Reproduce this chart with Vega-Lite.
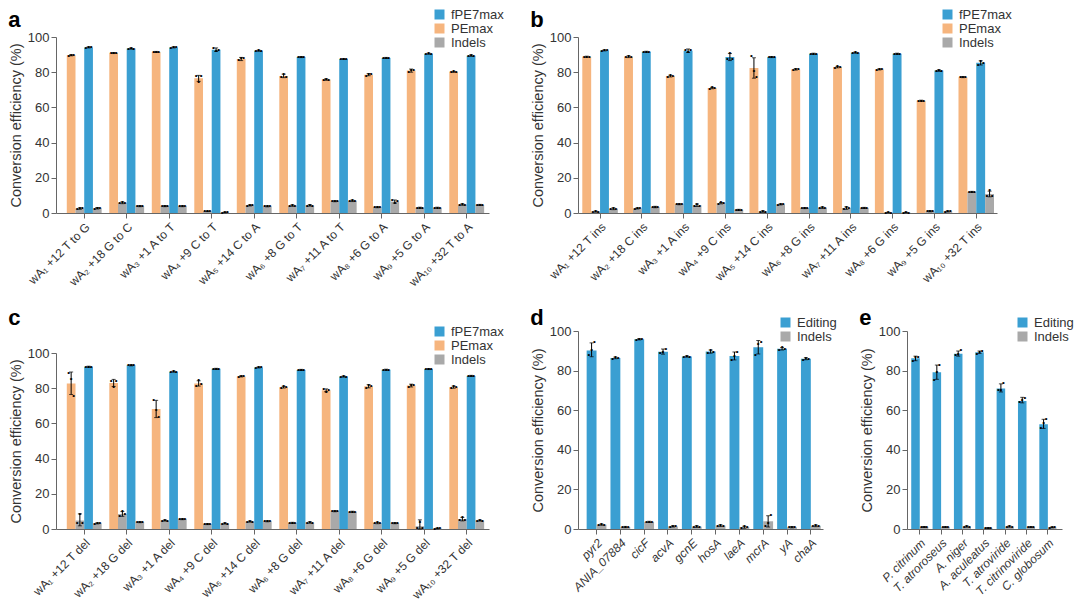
{
  "$schema": "https://vega.github.io/schema/vega-lite/v6.json",
  "background": "white",
  "padding": {"left": 8, "top": 8, "right": 2, "bottom": 2},
  "config": {
    "font": "Liberation Sans",
    "view": {"stroke": null},
    "axis": {"domainColor": "#666", "tickColor": "#666", "labelColor": "#333", "titleColor": "#333", "grid": false, "tickSize": 5, "labelFontSize": 13, "titleFontWeight": "normal", "titleFontSize": 14.5},
    "axisX": {"labelAngle": -45, "labelFontSize": 12, "labelPadding": 3},
    "axisY": {"values": [0, 20, 40, 60, 80, 100], "titlePadding": 4, "labelPadding": 2},
    "legend": {"orient": "none", "symbolType": "square", "symbolSize": 100, "labelFontSize": 13, "rowPadding": 0, "padding": 0, "symbolStrokeWidth": 0, "labelColor": "#333", "labelOffset": 5},
    "title": {"anchor": "start", "frame": "bounds", "fontSize": 22, "fontWeight": "bold", "color": "#000"}
  },
  "datasets": {
    "a": [
      {"g": "wA₁ +12 T to G", "s": "p", "k": "PEmax", "m": 89.6, "lo": 89.3, "hi": 89.9, "d1": 89.4, "d2": 89.6, "d3": 89.8},
      {"g": "wA₁ +12 T to G", "s": "pi", "k": "Indels", "m": 2.5, "lo": 2.1, "hi": 2.9, "d1": 2.2, "d2": 2.6, "d3": 2.7},
      {"g": "wA₁ +12 T to G", "s": "f", "k": "fPE7max", "m": 94.1, "lo": 93.8, "hi": 94.4, "d1": 94.0, "d2": 94.3, "d3": 94.1},
      {"g": "wA₁ +12 T to G", "s": "fi", "k": "Indels", "m": 2.7, "lo": 2.3, "hi": 3.1, "d1": 2.4, "d2": 3.0, "d3": 2.7},
      {"g": "wA₂ +18 G to C", "s": "p", "k": "PEmax", "m": 90.9, "lo": 90.6, "hi": 91.2, "d1": 90.8, "d2": 91.1, "d3": 90.9},
      {"g": "wA₂ +18 G to C", "s": "pi", "k": "Indels", "m": 5.8, "lo": 5.3, "hi": 6.3, "d1": 5.4, "d2": 6.2, "d3": 5.9},
      {"g": "wA₂ +18 G to C", "s": "f", "k": "fPE7max", "m": 93.4, "lo": 93.1, "hi": 93.7, "d1": 93.2, "d2": 93.6, "d3": 93.4},
      {"g": "wA₂ +18 G to C", "s": "fi", "k": "Indels", "m": 3.9, "lo": 3.6, "hi": 4.2, "d1": 3.8, "d2": 4.0, "d3": 3.9},
      {"g": "wA₃ +1 A to T", "s": "p", "k": "PEmax", "m": 91.5, "lo": 91.2, "hi": 91.8, "d1": 91.4, "d2": 91.6, "d3": 91.5},
      {"g": "wA₃ +1 A to T", "s": "pi", "k": "Indels", "m": 3.9, "lo": 3.6, "hi": 4.2, "d1": 3.7, "d2": 4.1, "d3": 3.9},
      {"g": "wA₃ +1 A to T", "s": "f", "k": "fPE7max", "m": 94.1, "lo": 93.8, "hi": 94.4, "d1": 94.0, "d2": 94.2, "d3": 94.1},
      {"g": "wA₃ +1 A to T", "s": "fi", "k": "Indels", "m": 3.9, "lo": 3.6, "hi": 4.2, "d1": 3.8, "d2": 4.1, "d3": 3.8},
      {"g": "wA₄ +9 C to T", "s": "p", "k": "PEmax", "m": 76.5, "lo": 74.8, "hi": 78.2, "d1": 77.6, "d2": 74.3, "d3": 77.6},
      {"g": "wA₄ +9 C to T", "s": "pi", "k": "Indels", "m": 1.0, "lo": 0.8, "hi": 1.2, "d1": 0.9, "d2": 1.1, "d3": 1.0},
      {"g": "wA₄ +9 C to T", "s": "f", "k": "fPE7max", "m": 92.8, "lo": 91.8, "hi": 93.8, "d1": 93.8, "d2": 92.1, "d3": 92.5},
      {"g": "wA₄ +9 C to T", "s": "fi", "k": "Indels", "m": 0.3, "lo": 0.1, "hi": 0.5, "d1": 0.2, "d2": 0.3, "d3": 0.4},
      {"g": "wA₅ +14 C to A", "s": "p", "k": "PEmax", "m": 87.5, "lo": 86.6, "hi": 88.4, "d1": 86.7, "d2": 87.9, "d3": 87.9},
      {"g": "wA₅ +14 C to A", "s": "pi", "k": "Indels", "m": 4.3, "lo": 4.0, "hi": 4.6, "d1": 4.2, "d2": 4.4, "d3": 4.3},
      {"g": "wA₅ +14 C to A", "s": "f", "k": "fPE7max", "m": 92.2, "lo": 91.9, "hi": 92.5, "d1": 92.1, "d2": 92.4, "d3": 92.1},
      {"g": "wA₅ +14 C to A", "s": "fi", "k": "Indels", "m": 3.8, "lo": 3.5, "hi": 4.1, "d1": 3.7, "d2": 3.9, "d3": 3.8},
      {"g": "wA₆ +8 G to T", "s": "p", "k": "PEmax", "m": 77.8, "lo": 76.9, "hi": 78.9, "d1": 77.3, "d2": 79.0, "d3": 77.1},
      {"g": "wA₆ +8 G to T", "s": "pi", "k": "Indels", "m": 4.2, "lo": 3.8, "hi": 4.6, "d1": 4.0, "d2": 4.5, "d3": 4.1},
      {"g": "wA₆ +8 G to T", "s": "f", "k": "fPE7max", "m": 88.6, "lo": 88.3, "hi": 88.9, "d1": 88.5, "d2": 88.7, "d3": 88.6},
      {"g": "wA₆ +8 G to T", "s": "fi", "k": "Indels", "m": 4.3, "lo": 3.9, "hi": 4.7, "d1": 4.1, "d2": 4.6, "d3": 4.2},
      {"g": "wA₇ +11 A to T", "s": "p", "k": "PEmax", "m": 75.8, "lo": 75.4, "hi": 76.2, "d1": 75.6, "d2": 76.1, "d3": 75.7},
      {"g": "wA₇ +11 A to T", "s": "pi", "k": "Indels", "m": 6.7, "lo": 6.4, "hi": 7.0, "d1": 6.6, "d2": 6.8, "d3": 6.7},
      {"g": "wA₇ +11 A to T", "s": "f", "k": "fPE7max", "m": 87.5, "lo": 87.2, "hi": 87.8, "d1": 87.4, "d2": 87.6, "d3": 87.5},
      {"g": "wA₇ +11 A to T", "s": "fi", "k": "Indels", "m": 6.9, "lo": 6.5, "hi": 7.3, "d1": 6.8, "d2": 7.2, "d3": 6.7},
      {"g": "wA₈ +6 G to A", "s": "p", "k": "PEmax", "m": 78.6, "lo": 78.0, "hi": 79.2, "d1": 78.0, "d2": 78.9, "d3": 78.8},
      {"g": "wA₈ +6 G to A", "s": "pi", "k": "Indels", "m": 3.3, "lo": 3.0, "hi": 3.6, "d1": 3.2, "d2": 3.4, "d3": 3.3},
      {"g": "wA₈ +6 G to A", "s": "f", "k": "fPE7max", "m": 88.1, "lo": 87.8, "hi": 88.4, "d1": 88.0, "d2": 88.2, "d3": 88.1},
      {"g": "wA₈ +6 G to A", "s": "fi", "k": "Indels", "m": 6.5, "lo": 5.6, "hi": 7.4, "d1": 7.3, "d2": 5.6, "d3": 6.6},
      {"g": "wA₉ +5 G to A", "s": "p", "k": "PEmax", "m": 80.9, "lo": 80.0, "hi": 81.8, "d1": 79.9, "d2": 81.3, "d3": 81.5},
      {"g": "wA₉ +5 G to A", "s": "pi", "k": "Indels", "m": 3.0, "lo": 2.7, "hi": 3.3, "d1": 2.9, "d2": 3.1, "d3": 3.0},
      {"g": "wA₉ +5 G to A", "s": "f", "k": "fPE7max", "m": 90.5, "lo": 90.2, "hi": 90.8, "d1": 90.4, "d2": 90.7, "d3": 90.4},
      {"g": "wA₉ +5 G to A", "s": "fi", "k": "Indels", "m": 3.0, "lo": 2.7, "hi": 3.3, "d1": 2.9, "d2": 3.0, "d3": 3.1},
      {"g": "wA₁₀ +32 T to A", "s": "p", "k": "PEmax", "m": 80.2, "lo": 79.9, "hi": 80.5, "d1": 80.0, "d2": 80.4, "d3": 80.2},
      {"g": "wA₁₀ +32 T to A", "s": "pi", "k": "Indels", "m": 4.8, "lo": 4.4, "hi": 5.2, "d1": 4.6, "d2": 5.1, "d3": 4.7},
      {"g": "wA₁₀ +32 T to A", "s": "f", "k": "fPE7max", "m": 89.4, "lo": 89.0, "hi": 89.8, "d1": 89.2, "d2": 89.6, "d3": 89.4},
      {"g": "wA₁₀ +32 T to A", "s": "fi", "k": "Indels", "m": 4.6, "lo": 4.3, "hi": 4.9, "d1": 4.5, "d2": 4.7, "d3": 4.6}
    ],
    "b": [
      {"g": "wA₁ +12 T ins", "s": "p", "k": "PEmax", "m": 88.8, "lo": 88.5, "hi": 89.1, "d1": 88.7, "d2": 88.9, "d3": 88.8},
      {"g": "wA₁ +12 T ins", "s": "pi", "k": "Indels", "m": 0.8, "lo": 0.5, "hi": 1.1, "d1": 0.7, "d2": 0.9, "d3": 0.8},
      {"g": "wA₁ +12 T ins", "s": "f", "k": "fPE7max", "m": 92.4, "lo": 92.1, "hi": 92.7, "d1": 92.3, "d2": 92.5, "d3": 92.4},
      {"g": "wA₁ +12 T ins", "s": "fi", "k": "Indels", "m": 2.4, "lo": 1.9, "hi": 2.9, "d1": 2.0, "d2": 2.8, "d3": 2.4},
      {"g": "wA₂ +18 C ins", "s": "p", "k": "PEmax", "m": 88.8, "lo": 88.3, "hi": 89.3, "d1": 88.5, "d2": 89.3, "d3": 88.6},
      {"g": "wA₂ +18 C ins", "s": "pi", "k": "Indels", "m": 2.6, "lo": 2.3, "hi": 2.9, "d1": 2.5, "d2": 2.7, "d3": 2.6},
      {"g": "wA₂ +18 C ins", "s": "f", "k": "fPE7max", "m": 91.6, "lo": 91.3, "hi": 91.9, "d1": 91.5, "d2": 91.7, "d3": 91.6},
      {"g": "wA₂ +18 C ins", "s": "fi", "k": "Indels", "m": 3.4, "lo": 3.0, "hi": 3.8, "d1": 3.2, "d2": 3.6, "d3": 3.4},
      {"g": "wA₃ +1 A ins", "s": "p", "k": "PEmax", "m": 77.8, "lo": 77.3, "hi": 78.3, "d1": 77.3, "d2": 78.3, "d3": 77.8},
      {"g": "wA₃ +1 A ins", "s": "pi", "k": "Indels", "m": 5.0, "lo": 4.7, "hi": 5.3, "d1": 4.9, "d2": 5.1, "d3": 5.0},
      {"g": "wA₃ +1 A ins", "s": "f", "k": "fPE7max", "m": 92.2, "lo": 91.2, "hi": 93.2, "d1": 92.8, "d2": 91.3, "d3": 92.5},
      {"g": "wA₃ +1 A ins", "s": "fi", "k": "Indels", "m": 4.4, "lo": 3.7, "hi": 5.1, "d1": 3.9, "d2": 5.2, "d3": 4.1},
      {"g": "wA₄ +9 C ins", "s": "p", "k": "PEmax", "m": 71.0, "lo": 70.6, "hi": 71.4, "d1": 70.7, "d2": 71.5, "d3": 70.8},
      {"g": "wA₄ +9 C ins", "s": "pi", "k": "Indels", "m": 5.6, "lo": 5.2, "hi": 6.0, "d1": 5.2, "d2": 6.0, "d3": 5.6},
      {"g": "wA₄ +9 C ins", "s": "f", "k": "fPE7max", "m": 88.6, "lo": 86.6, "hi": 90.6, "d1": 87.4, "d2": 90.9, "d3": 87.6},
      {"g": "wA₄ +9 C ins", "s": "fi", "k": "Indels", "m": 1.8, "lo": 1.5, "hi": 2.1, "d1": 1.7, "d2": 1.9, "d3": 1.8},
      {"g": "wA₅ +14 C ins", "s": "p", "k": "PEmax", "m": 82.4, "lo": 76.6, "hi": 88.2, "d1": 89.2, "d2": 80.6, "d3": 77.4},
      {"g": "wA₅ +14 C ins", "s": "pi", "k": "Indels", "m": 0.8, "lo": 0.4, "hi": 1.2, "d1": 0.5, "d2": 1.3, "d3": 0.6},
      {"g": "wA₅ +14 C ins", "s": "f", "k": "fPE7max", "m": 88.6, "lo": 88.3, "hi": 88.9, "d1": 88.5, "d2": 88.7, "d3": 88.6},
      {"g": "wA₅ +14 C ins", "s": "fi", "k": "Indels", "m": 4.9, "lo": 4.6, "hi": 5.2, "d1": 4.8, "d2": 5.0, "d3": 4.9},
      {"g": "wA₆ +8 G ins", "s": "p", "k": "PEmax", "m": 81.6, "lo": 81.2, "hi": 82.0, "d1": 81.2, "d2": 82.0, "d3": 81.6},
      {"g": "wA₆ +8 G ins", "s": "pi", "k": "Indels", "m": 2.8, "lo": 2.5, "hi": 3.1, "d1": 2.7, "d2": 2.9, "d3": 2.8},
      {"g": "wA₆ +8 G ins", "s": "f", "k": "fPE7max", "m": 90.5, "lo": 90.2, "hi": 90.8, "d1": 90.4, "d2": 90.6, "d3": 90.5},
      {"g": "wA₆ +8 G ins", "s": "fi", "k": "Indels", "m": 3.0, "lo": 2.6, "hi": 3.4, "d1": 2.6, "d2": 3.5, "d3": 2.9},
      {"g": "wA₇ +11 A ins", "s": "p", "k": "PEmax", "m": 82.9, "lo": 82.5, "hi": 83.3, "d1": 82.6, "d2": 83.3, "d3": 82.8},
      {"g": "wA₇ +11 A ins", "s": "pi", "k": "Indels", "m": 2.8, "lo": 2.1, "hi": 3.5, "d1": 2.2, "d2": 3.6, "d3": 2.6},
      {"g": "wA₇ +11 A ins", "s": "f", "k": "fPE7max", "m": 91.1, "lo": 90.8, "hi": 91.4, "d1": 91.0, "d2": 91.3, "d3": 91.0},
      {"g": "wA₇ +11 A ins", "s": "fi", "k": "Indels", "m": 2.9, "lo": 2.6, "hi": 3.2, "d1": 2.8, "d2": 3.0, "d3": 2.9},
      {"g": "wA₈ +6 G ins", "s": "p", "k": "PEmax", "m": 81.6, "lo": 81.3, "hi": 81.9, "d1": 81.5, "d2": 81.7, "d3": 81.6},
      {"g": "wA₈ +6 G ins", "s": "pi", "k": "Indels", "m": 0.2, "lo": 0.0, "hi": 0.4, "d1": 0.1, "d2": 0.3, "d3": 0.2},
      {"g": "wA₈ +6 G ins", "s": "f", "k": "fPE7max", "m": 90.5, "lo": 90.2, "hi": 90.8, "d1": 90.4, "d2": 90.6, "d3": 90.5},
      {"g": "wA₈ +6 G ins", "s": "fi", "k": "Indels", "m": 0.2, "lo": 0.0, "hi": 0.4, "d1": 0.1, "d2": 0.3, "d3": 0.2},
      {"g": "wA₉ +5 G ins", "s": "p", "k": "PEmax", "m": 63.8, "lo": 63.5, "hi": 64.1, "d1": 63.7, "d2": 63.9, "d3": 63.8},
      {"g": "wA₉ +5 G ins", "s": "pi", "k": "Indels", "m": 1.0, "lo": 0.7, "hi": 1.3, "d1": 0.9, "d2": 1.1, "d3": 1.0},
      {"g": "wA₉ +5 G ins", "s": "f", "k": "fPE7max", "m": 80.9, "lo": 80.5, "hi": 81.3, "d1": 80.7, "d2": 81.2, "d3": 80.8},
      {"g": "wA₉ +5 G ins", "s": "fi", "k": "Indels", "m": 0.9, "lo": 0.6, "hi": 1.2, "d1": 0.8, "d2": 1.0, "d3": 0.9},
      {"g": "wA₁₀ +32 T ins", "s": "p", "k": "PEmax", "m": 77.2, "lo": 76.9, "hi": 77.5, "d1": 77.1, "d2": 77.3, "d3": 77.2},
      {"g": "wA₁₀ +32 T ins", "s": "pi", "k": "Indels", "m": 12.0, "lo": 11.7, "hi": 12.3, "d1": 11.9, "d2": 12.1, "d3": 12.0},
      {"g": "wA₁₀ +32 T ins", "s": "f", "k": "fPE7max", "m": 85.3, "lo": 84.1, "hi": 86.5, "d1": 84.2, "d2": 86.5, "d3": 85.2},
      {"g": "wA₁₀ +32 T ins", "s": "fi", "k": "Indels", "m": 10.8, "lo": 9.2, "hi": 12.4, "d1": 9.8, "d2": 12.8, "d3": 9.9}
    ],
    "c": [
      {"g": "wA₁ +12 T del", "s": "p", "k": "PEmax", "m": 82.6, "lo": 76.4, "hi": 89.2, "d1": 88.5, "d2": 85.5, "d3": 75.5},
      {"g": "wA₁ +12 T del", "s": "pi", "k": "Indels", "m": 4.8, "lo": 1.8, "hi": 8.6, "d1": 3.3, "d2": 8.6, "d3": 3.5},
      {"g": "wA₁ +12 T del", "s": "f", "k": "fPE7max", "m": 92.2, "lo": 91.9, "hi": 92.5, "d1": 92.1, "d2": 92.3, "d3": 92.2},
      {"g": "wA₁ +12 T del", "s": "fi", "k": "Indels", "m": 3.2, "lo": 2.9, "hi": 3.5, "d1": 3.1, "d2": 3.3, "d3": 3.2},
      {"g": "wA₂ +18 G del", "s": "p", "k": "PEmax", "m": 83.0, "lo": 81.0, "hi": 85.0, "d1": 84.3, "d2": 80.6, "d3": 84.1},
      {"g": "wA₂ +18 G del", "s": "pi", "k": "Indels", "m": 8.5, "lo": 7.2, "hi": 9.9, "d1": 7.4, "d2": 10.1, "d3": 8.8},
      {"g": "wA₂ +18 G del", "s": "f", "k": "fPE7max", "m": 93.0, "lo": 92.7, "hi": 93.3, "d1": 92.9, "d2": 93.1, "d3": 93.0},
      {"g": "wA₂ +18 G del", "s": "fi", "k": "Indels", "m": 3.9, "lo": 3.6, "hi": 4.2, "d1": 3.8, "d2": 4.0, "d3": 3.9},
      {"g": "wA₃ +1 A del", "s": "p", "k": "PEmax", "m": 68.2, "lo": 63.3, "hi": 73.1, "d1": 73.3, "d2": 67.6, "d3": 63.4},
      {"g": "wA₃ +1 A del", "s": "pi", "k": "Indels", "m": 4.8, "lo": 4.5, "hi": 5.1, "d1": 4.7, "d2": 4.9, "d3": 4.8},
      {"g": "wA₃ +1 A del", "s": "f", "k": "fPE7max", "m": 89.4, "lo": 89.1, "hi": 89.7, "d1": 89.3, "d2": 89.5, "d3": 89.4},
      {"g": "wA₃ +1 A del", "s": "fi", "k": "Indels", "m": 5.6, "lo": 5.3, "hi": 5.9, "d1": 5.5, "d2": 5.7, "d3": 5.6},
      {"g": "wA₄ +9 C del", "s": "p", "k": "PEmax", "m": 82.6, "lo": 81.2, "hi": 84.2, "d1": 81.5, "d2": 84.5, "d3": 82.2},
      {"g": "wA₄ +9 C del", "s": "pi", "k": "Indels", "m": 2.8, "lo": 2.5, "hi": 3.1, "d1": 2.6, "d2": 3.0, "d3": 2.8},
      {"g": "wA₄ +9 C del", "s": "f", "k": "fPE7max", "m": 91.0, "lo": 90.7, "hi": 91.3, "d1": 90.9, "d2": 91.1, "d3": 91.0},
      {"g": "wA₄ +9 C del", "s": "fi", "k": "Indels", "m": 3.1, "lo": 2.8, "hi": 3.4, "d1": 3.0, "d2": 3.2, "d3": 3.1},
      {"g": "wA₅ +14 C del", "s": "p", "k": "PEmax", "m": 86.7, "lo": 86.4, "hi": 87.0, "d1": 86.6, "d2": 86.8, "d3": 86.7},
      {"g": "wA₅ +14 C del", "s": "pi", "k": "Indels", "m": 4.2, "lo": 3.9, "hi": 4.5, "d1": 4.1, "d2": 4.3, "d3": 4.2},
      {"g": "wA₅ +14 C del", "s": "f", "k": "fPE7max", "m": 91.8, "lo": 91.5, "hi": 92.1, "d1": 91.7, "d2": 91.9, "d3": 91.8},
      {"g": "wA₅ +14 C del", "s": "fi", "k": "Indels", "m": 4.4, "lo": 4.1, "hi": 4.7, "d1": 4.3, "d2": 4.5, "d3": 4.4},
      {"g": "wA₆ +8 G del", "s": "p", "k": "PEmax", "m": 80.6, "lo": 80.1, "hi": 81.1, "d1": 80.2, "d2": 81.2, "d3": 80.6},
      {"g": "wA₆ +8 G del", "s": "pi", "k": "Indels", "m": 3.5, "lo": 3.2, "hi": 3.8, "d1": 3.4, "d2": 3.6, "d3": 3.5},
      {"g": "wA₆ +8 G del", "s": "f", "k": "fPE7max", "m": 90.4, "lo": 90.1, "hi": 90.7, "d1": 90.3, "d2": 90.5, "d3": 90.4},
      {"g": "wA₆ +8 G del", "s": "fi", "k": "Indels", "m": 3.7, "lo": 3.3, "hi": 4.1, "d1": 3.5, "d2": 4.0, "d3": 3.6},
      {"g": "wA₇ +11 A del", "s": "p", "k": "PEmax", "m": 78.8, "lo": 78.0, "hi": 79.6, "d1": 79.5, "d2": 78.0, "d3": 79.0},
      {"g": "wA₇ +11 A del", "s": "pi", "k": "Indels", "m": 10.1, "lo": 9.8, "hi": 10.4, "d1": 10.0, "d2": 10.2, "d3": 10.1},
      {"g": "wA₇ +11 A del", "s": "f", "k": "fPE7max", "m": 86.6, "lo": 86.3, "hi": 86.9, "d1": 86.5, "d2": 86.7, "d3": 86.6},
      {"g": "wA₇ +11 A del", "s": "fi", "k": "Indels", "m": 9.8, "lo": 9.5, "hi": 10.1, "d1": 9.7, "d2": 9.9, "d3": 9.8},
      {"g": "wA₈ +6 G del", "s": "p", "k": "PEmax", "m": 81.1, "lo": 80.2, "hi": 82.0, "d1": 80.1, "d2": 82.0, "d3": 81.4},
      {"g": "wA₈ +6 G del", "s": "pi", "k": "Indels", "m": 3.4, "lo": 3.0, "hi": 3.8, "d1": 3.2, "d2": 3.7, "d3": 3.3},
      {"g": "wA₈ +6 G del", "s": "f", "k": "fPE7max", "m": 90.5, "lo": 90.2, "hi": 90.8, "d1": 90.4, "d2": 90.6, "d3": 90.5},
      {"g": "wA₈ +6 G del", "s": "fi", "k": "Indels", "m": 3.3, "lo": 3.0, "hi": 3.6, "d1": 3.2, "d2": 3.4, "d3": 3.3},
      {"g": "wA₉ +5 G del", "s": "p", "k": "PEmax", "m": 81.5, "lo": 80.7, "hi": 82.3, "d1": 80.6, "d2": 82.0, "d3": 82.0},
      {"g": "wA₉ +5 G del", "s": "pi", "k": "Indels", "m": 1.6, "lo": 0.0, "hi": 5.2, "d1": 0.5, "d2": 3.7, "d3": 0.6},
      {"g": "wA₉ +5 G del", "s": "f", "k": "fPE7max", "m": 90.9, "lo": 90.6, "hi": 91.2, "d1": 90.8, "d2": 91.0, "d3": 90.9},
      {"g": "wA₉ +5 G del", "s": "fi", "k": "Indels", "m": 0.3, "lo": 0.1, "hi": 0.5, "d1": 0.2, "d2": 0.3, "d3": 0.4},
      {"g": "wA₁₀ +32 T del", "s": "p", "k": "PEmax", "m": 80.6, "lo": 80.0, "hi": 81.2, "d1": 80.0, "d2": 81.2, "d3": 80.6},
      {"g": "wA₁₀ +32 T del", "s": "pi", "k": "Indels", "m": 5.6, "lo": 4.6, "hi": 6.6, "d1": 5.0, "d2": 6.7, "d3": 5.1},
      {"g": "wA₁₀ +32 T del", "s": "f", "k": "fPE7max", "m": 87.0, "lo": 86.7, "hi": 87.3, "d1": 86.9, "d2": 87.1, "d3": 87.0},
      {"g": "wA₁₀ +32 T del", "s": "fi", "k": "Indels", "m": 4.8, "lo": 4.5, "hi": 5.1, "d1": 4.7, "d2": 4.9, "d3": 4.8}
    ],
    "d": [
      {"g": "pyr2", "s": "e", "k": "Editing", "m": 90.2, "lo": 87.0, "hi": 94.0, "d1": 87.8, "d2": 90.6, "d3": 94.2},
      {"g": "pyr2", "s": "i", "k": "Indels", "m": 2.2, "lo": 1.9, "hi": 2.5, "d1": 2.1, "d2": 2.3, "d3": 2.2},
      {"g": "ANIA_07884", "s": "e", "k": "Editing", "m": 86.4, "lo": 86.0, "hi": 86.8, "d1": 86.1, "d2": 86.7, "d3": 86.4},
      {"g": "ANIA_07884", "s": "i", "k": "Indels", "m": 1.0, "lo": 0.7, "hi": 1.3, "d1": 0.8, "d2": 1.2, "d3": 1.0},
      {"g": "cicF", "s": "e", "k": "Editing", "m": 95.8, "lo": 95.5, "hi": 96.1, "d1": 95.7, "d2": 95.9, "d3": 95.8},
      {"g": "cicF", "s": "i", "k": "Indels", "m": 3.6, "lo": 3.3, "hi": 3.9, "d1": 3.5, "d2": 3.7, "d3": 3.6},
      {"g": "acvA", "s": "e", "k": "Editing", "m": 89.5, "lo": 88.3, "hi": 90.9, "d1": 88.8, "d2": 89.4, "d3": 91.0},
      {"g": "acvA", "s": "i", "k": "Indels", "m": 1.3, "lo": 1.0, "hi": 1.6, "d1": 1.2, "d2": 1.4, "d3": 1.3},
      {"g": "gcnE", "s": "e", "k": "Editing", "m": 87.1, "lo": 86.8, "hi": 87.4, "d1": 87.0, "d2": 87.3, "d3": 87.1},
      {"g": "gcnE", "s": "i", "k": "Indels", "m": 1.2, "lo": 0.8, "hi": 1.6, "d1": 1.0, "d2": 1.5, "d3": 1.1},
      {"g": "hosA", "s": "e", "k": "Editing", "m": 89.6, "lo": 88.8, "hi": 90.4, "d1": 88.9, "d2": 90.3, "d3": 89.6},
      {"g": "hosA", "s": "i", "k": "Indels", "m": 1.7, "lo": 1.3, "hi": 2.1, "d1": 1.4, "d2": 2.0, "d3": 1.6},
      {"g": "laeA", "s": "e", "k": "Editing", "m": 87.4, "lo": 85.4, "hi": 89.4, "d1": 85.4, "d2": 87.6, "d3": 89.2},
      {"g": "laeA", "s": "i", "k": "Indels", "m": 0.9, "lo": 0.4, "hi": 1.4, "d1": 0.5, "d2": 1.3, "d3": 0.9},
      {"g": "mcrA", "s": "e", "k": "Editing", "m": 91.8, "lo": 88.4, "hi": 95.2, "d1": 87.9, "d2": 93.3, "d3": 94.2},
      {"g": "mcrA", "s": "i", "k": "Indels", "m": 3.9, "lo": 1.0, "hi": 6.7, "d1": 1.5, "d2": 2.9, "d3": 7.0},
      {"g": "yA", "s": "e", "k": "Editing", "m": 91.0, "lo": 90.4, "hi": 91.6, "d1": 90.5, "d2": 91.7, "d3": 90.9},
      {"g": "yA", "s": "i", "k": "Indels", "m": 0.9, "lo": 0.6, "hi": 1.2, "d1": 0.8, "d2": 1.0, "d3": 0.9},
      {"g": "chaA", "s": "e", "k": "Editing", "m": 86.0, "lo": 85.5, "hi": 86.5, "d1": 85.6, "d2": 86.5, "d3": 85.9},
      {"g": "chaA", "s": "i", "k": "Indels", "m": 1.6, "lo": 1.2, "hi": 2.0, "d1": 1.3, "d2": 2.1, "d3": 1.4}
    ],
    "e": [
      {"g": "P. citrinum", "s": "e", "k": "Editing", "m": 86.2, "lo": 85.0, "hi": 87.3, "d1": 85.0, "d2": 86.9, "d3": 86.8},
      {"g": "P. citrinum", "s": "i", "k": "Indels", "m": 1.0, "lo": 0.8, "hi": 1.2, "d1": 0.9, "d2": 1.1, "d3": 1.0},
      {"g": "T. atroroseus", "s": "e", "k": "Editing", "m": 79.2, "lo": 75.6, "hi": 82.8, "d1": 75.5, "d2": 79.2, "d3": 82.8},
      {"g": "T. atroroseus", "s": "i", "k": "Indels", "m": 1.0, "lo": 0.8, "hi": 1.2, "d1": 0.9, "d2": 1.1, "d3": 1.0},
      {"g": "A. niger", "s": "e", "k": "Editing", "m": 88.5, "lo": 87.3, "hi": 89.9, "d1": 87.8, "d2": 88.4, "d3": 90.2},
      {"g": "A. niger", "s": "i", "k": "Indels", "m": 1.2, "lo": 0.9, "hi": 1.5, "d1": 1.1, "d2": 1.4, "d3": 1.2},
      {"g": "A. aculeatus", "s": "e", "k": "Editing", "m": 89.3, "lo": 88.7, "hi": 89.9, "d1": 88.3, "d2": 89.6, "d3": 89.9},
      {"g": "A. aculeatus", "s": "i", "k": "Indels", "m": 0.5, "lo": 0.3, "hi": 0.7, "d1": 0.4, "d2": 0.6, "d3": 0.5},
      {"g": "T. atroviride", "s": "e", "k": "Editing", "m": 71.0, "lo": 69.2, "hi": 73.3, "d1": 70.4, "d2": 70.2, "d3": 73.5},
      {"g": "T. atroviride", "s": "i", "k": "Indels", "m": 1.2, "lo": 0.9, "hi": 1.5, "d1": 1.1, "d2": 1.4, "d3": 1.2},
      {"g": "T. citrinoviride", "s": "e", "k": "Editing", "m": 64.7, "lo": 63.7, "hi": 66.5, "d1": 64.0, "d2": 65.0, "d3": 66.2},
      {"g": "T. citrinoviride", "s": "i", "k": "Indels", "m": 1.0, "lo": 0.8, "hi": 1.2, "d1": 0.9, "d2": 1.1, "d3": 1.0},
      {"g": "C. globosum", "s": "e", "k": "Editing", "m": 52.9, "lo": 50.8, "hi": 55.4, "d1": 51.2, "d2": 53.3, "d3": 55.5},
      {"g": "C. globosum", "s": "i", "k": "Indels", "m": 0.8, "lo": 0.6, "hi": 1.0, "d1": 0.7, "d2": 0.9, "d3": 0.8}
    ]
  },
  "spacing": 26,
  "resolve": {"scale": {"x": "independent", "y": "independent", "xOffset": "independent", "color": "independent"}, "legend": {"color": "independent"}},
  "hconcat": [
    {
      "bounds": "flush",
      "spacing": 140,
      "resolve": {"scale": {"x": "independent", "y": "independent", "xOffset": "independent", "color": "independent"}, "legend": {"color": "independent"}},
      "vconcat": [
        {
          "title": {"text": "a", "offset": -24},
          "width": 433, "height": 176,
          "data": {"name": "a"},
          "encoding": {
            "x": {"field": "g", "type": "nominal", "sort": null, "title": null, "scale": {"paddingInner": 0.18, "paddingOuter": 0.184, "align": 0.69}},
            "xOffset": {"field": "s", "type": "nominal", "scale": {"domain": ["p", "pi", "f", "fi"], "paddingInner": 0, "paddingOuter": 0}}
          },
          "layer": [
            {"mark": {"type": "bar"}, "encoding": {
              "y": {"field": "m", "type": "quantitative", "scale": {"domain": [0, 100]}, "title": "Conversion efficiency (%)"},
              "color": {"field": "k", "type": "nominal", "scale": {"domain": ["fPE7max", "PEmax", "Indels"], "range": ["#3a9fd2", "#f6b57e", "#a9a9a9"]}, "legend": {"title": null, "legendX": 377, "legendY": -29}}}},
            {"mark": {"type": "rule", "color": "#000", "strokeWidth": 1}, "encoding": {"y": {"field": "lo", "type": "quantitative"}, "y2": {"field": "hi"}}},
            {"mark": {"type": "tick", "orient": "horizontal", "size": 4, "thickness": 1, "color": "#000"}, "encoding": {"y": {"field": "hi", "type": "quantitative"}}},
            {"mark": {"type": "tick", "orient": "horizontal", "size": 4, "thickness": 1, "color": "#000"}, "encoding": {"y": {"field": "lo", "type": "quantitative"}}},
            {"mark": {"type": "text", "text": "•", "dx": -2.6, "fontSize": 8, "baseline": "middle", "color": "#000"}, "encoding": {"y": {"field": "d1", "type": "quantitative"}}},
            {"mark": {"type": "text", "text": "•", "dx": 0, "fontSize": 8, "baseline": "middle", "color": "#000"}, "encoding": {"y": {"field": "d2", "type": "quantitative"}}},
            {"mark": {"type": "text", "text": "•", "dx": 2.6, "fontSize": 8, "baseline": "middle", "color": "#000"}, "encoding": {"y": {"field": "d3", "type": "quantitative"}}}
          ]
        },
        {
          "title": {"text": "c", "offset": -5},
          "width": 433, "height": 176,
          "data": {"name": "c"},
          "encoding": {
            "x": {"field": "g", "type": "nominal", "sort": null, "title": null, "scale": {"paddingInner": 0.18, "paddingOuter": 0.184, "align": 0.69}},
            "xOffset": {"field": "s", "type": "nominal", "scale": {"domain": ["p", "pi", "f", "fi"], "paddingInner": 0, "paddingOuter": 0}}
          },
          "layer": [
            {"mark": {"type": "bar"}, "encoding": {
              "y": {"field": "m", "type": "quantitative", "scale": {"domain": [0, 100]}, "title": "Conversion efficiency (%)"},
              "color": {"field": "k", "type": "nominal", "scale": {"domain": ["fPE7max", "PEmax", "Indels"], "range": ["#3a9fd2", "#f6b57e", "#a9a9a9"]}, "legend": {"title": null, "legendX": 377, "legendY": -28}}}},
            {"mark": {"type": "rule", "color": "#000", "strokeWidth": 1}, "encoding": {"y": {"field": "lo", "type": "quantitative"}, "y2": {"field": "hi"}}},
            {"mark": {"type": "tick", "orient": "horizontal", "size": 4, "thickness": 1, "color": "#000"}, "encoding": {"y": {"field": "hi", "type": "quantitative"}}},
            {"mark": {"type": "tick", "orient": "horizontal", "size": 4, "thickness": 1, "color": "#000"}, "encoding": {"y": {"field": "lo", "type": "quantitative"}}},
            {"mark": {"type": "text", "text": "•", "dx": -2.6, "fontSize": 8, "baseline": "middle", "color": "#000"}, "encoding": {"y": {"field": "d1", "type": "quantitative"}}},
            {"mark": {"type": "text", "text": "•", "dx": 0, "fontSize": 8, "baseline": "middle", "color": "#000"}, "encoding": {"y": {"field": "d2", "type": "quantitative"}}},
            {"mark": {"type": "text", "text": "•", "dx": 2.6, "fontSize": 8, "baseline": "middle", "color": "#000"}, "encoding": {"y": {"field": "d3", "type": "quantitative"}}}
          ]
        }
      ]
    },
    {
      "bounds": "flush",
      "spacing": 118,
      "resolve": {"scale": {"x": "independent", "y": "independent", "xOffset": "independent", "color": "independent"}, "legend": {"color": "independent"}},
      "vconcat": [
        {
          "title": {"text": "b", "offset": -24},
          "width": 419, "height": 176,
          "data": {"name": "b"},
          "encoding": {
            "x": {"field": "g", "type": "nominal", "sort": null, "title": null, "scale": {"paddingInner": 0.15, "paddingOuter": 0.087, "align": 0.59}},
            "xOffset": {"field": "s", "type": "nominal", "scale": {"domain": ["p", "pi", "f", "fi"], "paddingInner": 0, "paddingOuter": 0}}
          },
          "layer": [
            {"mark": {"type": "bar"}, "encoding": {
              "y": {"field": "m", "type": "quantitative", "scale": {"domain": [0, 100]}, "title": "Conversion efficiency (%)"},
              "color": {"field": "k", "type": "nominal", "scale": {"domain": ["fPE7max", "PEmax", "Indels"], "range": ["#3a9fd2", "#f6b57e", "#a9a9a9"]}, "legend": {"title": null, "legendX": 363, "legendY": -29}}}},
            {"mark": {"type": "rule", "color": "#000", "strokeWidth": 1}, "encoding": {"y": {"field": "lo", "type": "quantitative"}, "y2": {"field": "hi"}}},
            {"mark": {"type": "tick", "orient": "horizontal", "size": 4, "thickness": 1, "color": "#000"}, "encoding": {"y": {"field": "hi", "type": "quantitative"}}},
            {"mark": {"type": "tick", "orient": "horizontal", "size": 4, "thickness": 1, "color": "#000"}, "encoding": {"y": {"field": "lo", "type": "quantitative"}}},
            {"mark": {"type": "text", "text": "•", "dx": -2.6, "fontSize": 8, "baseline": "middle", "color": "#000"}, "encoding": {"y": {"field": "d1", "type": "quantitative"}}},
            {"mark": {"type": "text", "text": "•", "dx": 0, "fontSize": 8, "baseline": "middle", "color": "#000"}, "encoding": {"y": {"field": "d2", "type": "quantitative"}}},
            {"mark": {"type": "text", "text": "•", "dx": 2.6, "fontSize": 8, "baseline": "middle", "color": "#000"}, "encoding": {"y": {"field": "d3", "type": "quantitative"}}}
          ]
        },
        {
          "bounds": "flush",
          "spacing": 84,
          "resolve": {"scale": {"x": "independent", "y": "independent", "xOffset": "independent", "color": "independent"}, "legend": {"color": "independent"}},
          "hconcat": [
            {
              "title": {"text": "d", "offset": -14},
              "width": 245, "height": 198,
              "data": {"name": "d"},
              "encoding": {
                "x": {"field": "g", "type": "nominal", "sort": null, "title": null, "scale": {"paddingInner": 0.17, "paddingOuter": 0.23, "align": 0.79}, "axis": {"labelFontStyle": "italic"}},
                "xOffset": {"field": "s", "type": "nominal", "scale": {"domain": ["e", "i"], "paddingInner": 0, "paddingOuter": 0}}
              },
              "layer": [
                {"mark": {"type": "bar"}, "encoding": {
                  "y": {"field": "m", "type": "quantitative", "scale": {"domain": [0, 100]}, "title": "Conversion efficiency (%)"},
                  "color": {"field": "k", "type": "nominal", "scale": {"domain": ["Editing", "Indels"], "range": ["#3a9fd2", "#a9a9a9"]}, "legend": {"title": null, "legendX": 201, "legendY": -15}}}},
                {"mark": {"type": "rule", "color": "#000", "strokeWidth": 1}, "encoding": {"y": {"field": "lo", "type": "quantitative"}, "y2": {"field": "hi"}}},
                {"mark": {"type": "tick", "orient": "horizontal", "size": 4, "thickness": 1, "color": "#000"}, "encoding": {"y": {"field": "hi", "type": "quantitative"}}},
                {"mark": {"type": "tick", "orient": "horizontal", "size": 4, "thickness": 1, "color": "#000"}, "encoding": {"y": {"field": "lo", "type": "quantitative"}}},
                {"mark": {"type": "text", "text": "•", "dx": -2.8, "fontSize": 8, "baseline": "middle", "color": "#000"}, "encoding": {"y": {"field": "d1", "type": "quantitative"}}},
                {"mark": {"type": "text", "text": "•", "dx": 0, "fontSize": 8, "baseline": "middle", "color": "#000"}, "encoding": {"y": {"field": "d2", "type": "quantitative"}}},
                {"mark": {"type": "text", "text": "•", "dx": 2.8, "fontSize": 8, "baseline": "middle", "color": "#000"}, "encoding": {"y": {"field": "d3", "type": "quantitative"}}}
              ]
            },
            {
              "title": {"text": "e", "offset": -14},
              "width": 155, "height": 198,
              "data": {"name": "e"},
              "encoding": {
                "x": {"field": "g", "type": "nominal", "sort": null, "title": null, "scale": {"paddingInner": 0.2, "paddingOuter": 0.23, "align": 0.43}, "axis": {"labelFontStyle": "italic"}},
                "xOffset": {"field": "s", "type": "nominal", "scale": {"domain": ["e", "i"], "paddingInner": 0, "paddingOuter": 0}}
              },
              "layer": [
                {"mark": {"type": "bar"}, "encoding": {
                  "y": {"field": "m", "type": "quantitative", "scale": {"domain": [0, 100]}, "title": "Conversion efficiency (%)"},
                  "color": {"field": "k", "type": "nominal", "scale": {"domain": ["Editing", "Indels"], "range": ["#3a9fd2", "#a9a9a9"]}, "legend": {"title": null, "legendX": 109, "legendY": -15}}}},
                {"mark": {"type": "rule", "color": "#000", "strokeWidth": 1}, "encoding": {"y": {"field": "lo", "type": "quantitative"}, "y2": {"field": "hi"}}},
                {"mark": {"type": "tick", "orient": "horizontal", "size": 4, "thickness": 1, "color": "#000"}, "encoding": {"y": {"field": "hi", "type": "quantitative"}}},
                {"mark": {"type": "tick", "orient": "horizontal", "size": 4, "thickness": 1, "color": "#000"}, "encoding": {"y": {"field": "lo", "type": "quantitative"}}},
                {"mark": {"type": "text", "text": "•", "dx": -2.6, "fontSize": 8, "baseline": "middle", "color": "#000"}, "encoding": {"y": {"field": "d1", "type": "quantitative"}}},
                {"mark": {"type": "text", "text": "•", "dx": 0, "fontSize": 8, "baseline": "middle", "color": "#000"}, "encoding": {"y": {"field": "d2", "type": "quantitative"}}},
                {"mark": {"type": "text", "text": "•", "dx": 2.6, "fontSize": 8, "baseline": "middle", "color": "#000"}, "encoding": {"y": {"field": "d3", "type": "quantitative"}}}
              ]
            }
          ]
        }
      ]
    }
  ]
}
